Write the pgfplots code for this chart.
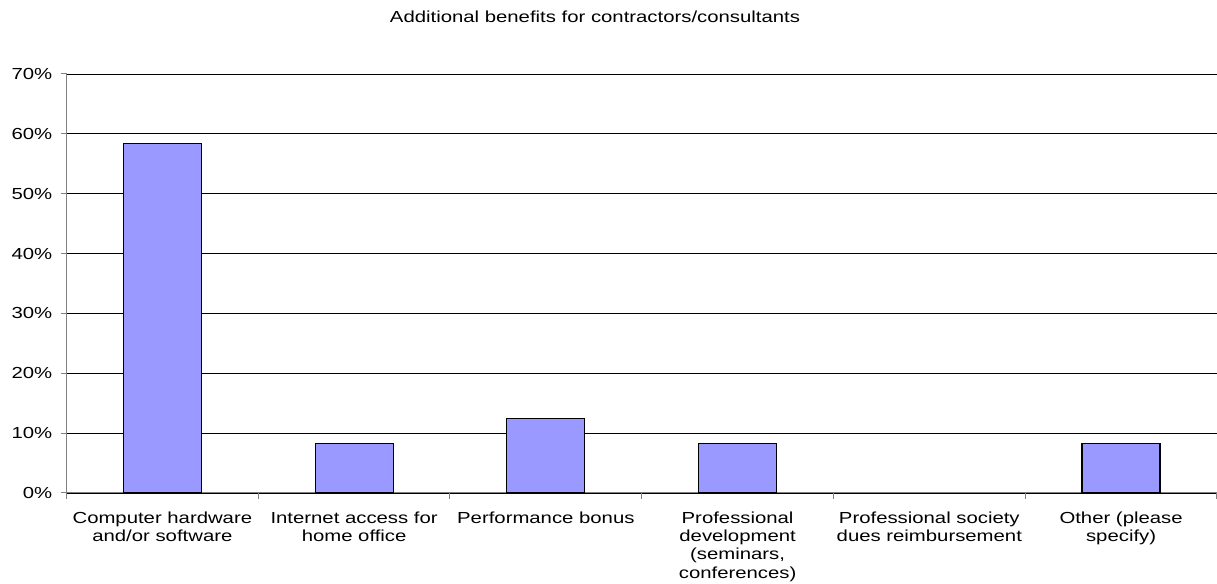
\documentclass[border=0pt]{standalone}
\usepackage{fontspec}
\setmainfont{Liberation Sans}
\usepackage{pgfplots}
\pgfplotsset{compat=1.18}
\definecolor{barblue}{HTML}{9999FF}
\definecolor{axgray}{HTML}{808080}
\begin{document}
\begin{tikzpicture}[x=1bp,y=1bp]
\useasboundingbox (0,0) rectangle (1217,584);
\node[font=\fontsize{16bp}{18.4bp}\selectfont, xscale=1.27, anchor=base, inner sep=0pt] at (595,561) {Additional benefits for contractors/consultants};
\begin{axis}[
  at={(66.5bp,91bp)}, anchor=south west,
  scale only axis, width=1150.5bp, height=419bp,
  xmin=-0.5, xmax=5.5, ymin=0, ymax=70,
  axis x line*=bottom, axis y line*=left,
  axis line style={draw=axgray, line width=1bp},
  ymajorgrids, major grid style={black, line width=0.8bp},
  ytick={0,10,...,70},
  yticklabel={\pgfmathprintnumber{\tick}\%},
  /pgf/number format/assume math mode=true,
  tick align=outside, major tick length=6bp,
  tick style={draw=axgray, line width=1bp},
  xtick={-0.5,0.5,...,5.5}, xticklabels={},
  extra x ticks={0,1,2,3,4,5},
  extra x tick labels={{Computer hardware\\and/or software},{Internet access for\\home office},{Performance bonus},{Professional\\development\\(seminars,\\conferences)},{Professional society\\dues reimbursement},{Other (please\\specify)}},
  extra x tick style={major tick length=0pt, grid=none},
  tick label style={font=\fontsize{16bp}{18.4bp}\selectfont, xscale=1.27},
  xticklabel style={align=center, anchor=north, yshift=-15bp},
  yticklabel style={xshift=-3bp},
  clip=false,
]
\addplot[ybar, bar width=78bp, fill=barblue, draw=black, line width=1.2bp]
  coordinates {(0,58.33) (1,8.33) (2,12.5) (3,8.33) (5,8.33)};
\end{axis}
\end{tikzpicture}
\end{document}
